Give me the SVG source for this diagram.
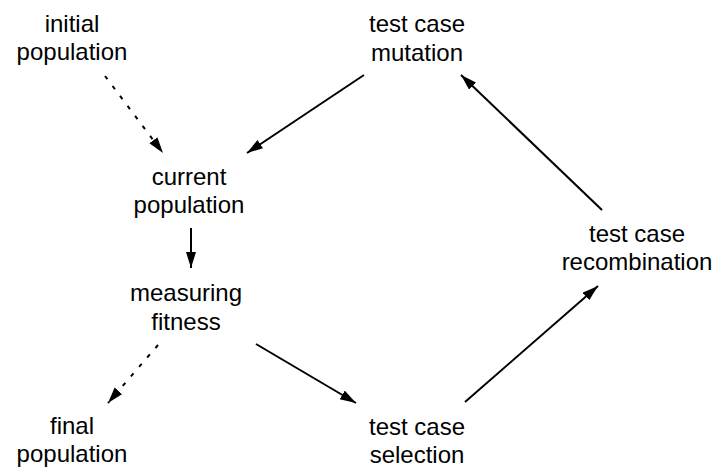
<svg xmlns="http://www.w3.org/2000/svg" width="715" height="468" viewBox="0 0 715 468">
<style>
text{font-family:"Liberation Sans",Arial,sans-serif;font-size:24px;fill:#000;text-anchor:middle}
.c{stroke:#000;stroke-width:2;fill:none}
.d{stroke-dasharray:4 8.5}
</style>
<defs>
<marker id="ah" markerUnits="userSpaceOnUse" markerWidth="17" markerHeight="11" refX="16" refY="5" orient="auto">
<path d="M0,0 L16,5 L0,10 z" fill="#000"/>
</marker>
</defs>
<rect width="715" height="468" fill="#fff"/>
<g id="connectors">
<line class="c d" x1="105" y1="76" x2="163" y2="153" marker-end="url(#ah)"/>
<line class="c" x1="364" y1="75" x2="247" y2="153" marker-end="url(#ah)"/>
<line class="c" x1="191" y1="228" x2="191" y2="268" marker-end="url(#ah)"/>
<line class="c d" x1="158" y1="345" x2="108" y2="403" marker-end="url(#ah)"/>
<line class="c" x1="256" y1="344" x2="356" y2="403" marker-end="url(#ah)"/>
<line class="c" x1="465" y1="402" x2="598" y2="286" marker-end="url(#ah)"/>
<line class="c" x1="602" y1="210" x2="461" y2="75" marker-end="url(#ah)"/>
</g>
<g id="initial"><text x="72" y="32">initial</text><text x="72" y="60">population</text></g>
<g id="mutation"><text x="417" y="32">test case</text><text x="417" y="61">mutation</text></g>
<g id="current"><text x="189" y="185">current</text><text x="189" y="213">population</text></g>
<g id="measuring"><text x="186" y="301">measuring</text><text x="186" y="330">fitness</text></g>
<g id="recombination"><text x="637" y="242">test case</text><text x="637" y="270">recombination</text></g>
<g id="final"><text x="72" y="434">final</text><text x="72" y="462">population</text></g>
<g id="selection"><text x="417" y="435">test case</text><text x="417" y="463">selection</text></g>
</svg>
